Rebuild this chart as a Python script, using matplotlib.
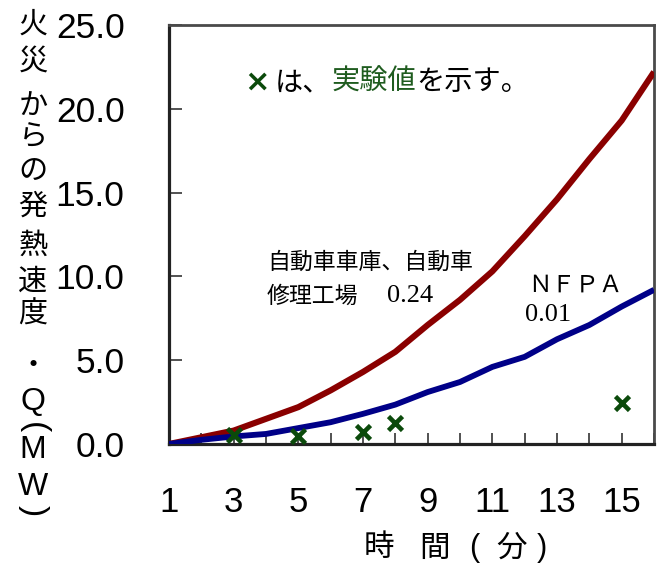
import matplotlib
matplotlib.use("Agg")
import matplotlib.pyplot as plt

# --- data -------------------------------------------------------------
minutes = [1, 2, 3, 4, 5, 6, 7, 8, 9, 10, 11, 12, 13, 14, 15, 16]
q_garage = [0.0, 0.4, 0.8, 1.5, 2.2, 3.2, 4.3, 5.5, 7.1, 8.6, 10.3, 12.4,
            14.6, 17.0, 19.3, 22.2]
q_nfpa = [0.0, 0.25, 0.45, 0.6, 0.95, 1.3, 1.8, 2.35, 3.1, 3.7, 4.6, 5.2,
          6.25, 7.1, 8.2, 9.2]
test_minutes = [3, 5, 7, 8, 15]
test_q = [0.55, 0.5, 0.7, 1.25, 2.45]

x_ticklabels = ["1", "3", "5", "7", "9", "11", "13", "15"]
y_ticks = [0.0, 5.0, 10.0, 15.0, 20.0, 25.0]

ylabel_chars = ["火", "災", "か", "ら", "の", "発", "熱", "速", "度", "・",
                "Q", "(", "M", "W", ")"]
xlabel_chars = ["時", "間", "(", "分", ")"]

# --- styling ----------------------------------------------------------
RED = "#8a0000"
BLUE = "#000088"
GREEN = "#0b4a0b"
GREEN_TXT = "#1f5c1f"
JP = ["Noto Sans CJK JP", "DejaVu Sans"]
LAT_JP = ["Liberation Sans", "Noto Sans CJK JP"]

W, H = 660, 570
fig = plt.figure(figsize=(W / 100, H / 100), dpi=100)
L, R, T, B = 169, 654, 25, 444
ax = fig.add_axes([L / W, 1 - B / H, (R - L) / W, (B - T) / H])

ax.plot(minutes, q_garage, color=RED, lw=4.4, solid_capstyle="butt", zorder=3)
ax.plot(minutes, q_nfpa, color=BLUE, lw=4.2, solid_capstyle="butt", zorder=3)
ax.plot(test_minutes, test_q, linestyle="none", marker="x", color=GREEN,
        markersize=10, markeredgewidth=3.3, zorder=4)

ax.set_xlim(1, 16)
ax.set_ylim(0, 25)
ax.set_xticks(minutes)
ax.set_xticklabels([str(m) if str(m) in x_ticklabels else "" for m in minutes],
                   family="Liberation Sans", fontsize=25)
ax.set_yticks(y_ticks)
ax.set_yticklabels([f"{v:.1f}" for v in y_ticks], family="Liberation Sans",
                   fontsize=25.5)
ax.tick_params(axis="x", direction="in", length=8, width=1.2, color="#333333",
               pad=30)
ax.tick_params(axis="y", direction="in", length=9, width=1.2, color="#333333",
               pad=32)

for side in ("left", "bottom"):
    ax.spines[side].set_color("#222222")
    ax.spines[side].set_linewidth(2.3)
for side in ("top", "right"):
    ax.spines[side].set_color("#4a4a4a")
    ax.spines[side].set_linewidth(2.0)

# vertical y-axis caption, one glyph per row (brackets turned sideways)
ylabel_rows = [25, 62, 106, 137, 172, 207, 246, 282, 315, 366, 402, 428, 450,
               487, 511]
for ch, yp in zip(ylabel_chars, ylabel_rows):
    if ch in "()":
        fig.text(33 / W, 1 - yp / H, ch, family="Liberation Sans",
                 fontsize=24, rotation=-90, rotation_mode="anchor",
                 ha="center", va="center")
    elif ch in "QMW":
        fig.text(33 / W, 1 - yp / H, ch, family=LAT_JP, fontsize=23,
                 ha="center", va="center")
    else:
        fig.text(33 / W, 1 - yp / H, ch, family=JP, fontsize=21,
                 ha="center", va="center")

# x-axis caption, spaced glyph by glyph
xlabel_cols = [379, 435, 474, 512, 542]
for ch, xp in zip(xlabel_chars, xlabel_cols):
    fig.text(xp / W, 1 - 548 / H, ch,
             family="Liberation Sans" if ch in "()" else JP,
             fontsize=22, ha="center", va="center")

# legend note: "× は、実験値を示す。"
ax.text(3.72, 21.6, "×", color=GREEN, fontsize=22, fontweight="bold",
        family="DejaVu Sans", ha="center", va="center")
t1 = ax.text(4.28, 21.6, "は、", family=JP, fontsize=20.3, va="center",
             ha="left")
t2 = ax.annotate("実験値", xy=(1, 0.5), xycoords=t1, va="center", ha="left",
                 family=JP, fontsize=20.3, color=GREEN_TXT)
ax.annotate("を示す。", xy=(1, 0.5), xycoords=t2, va="center", ha="left",
            family=JP, fontsize=20.3)

# curve annotations
ax.text(4.03, 10.86, "自動車車庫、自動車", family=JP, fontsize=16.5,
        ha="left", va="center")
ax.text(4.03, 8.83, "修理工場", family=JP, fontsize=16.5, ha="left",
        va="center")
ax.text(7.74, 8.83, "0.24", family="Liberation Serif", fontsize=19,
        ha="left", va="center")
ax.text(12.1, 9.5, "ＮＦＰＡ", family=JP, fontsize=17, ha="left",
        va="center")
ax.text(12.0, 7.7, "0.01", family="Liberation Serif", fontsize=19,
        ha="left", va="center")

fig.savefig("out.png", dpi=100)
